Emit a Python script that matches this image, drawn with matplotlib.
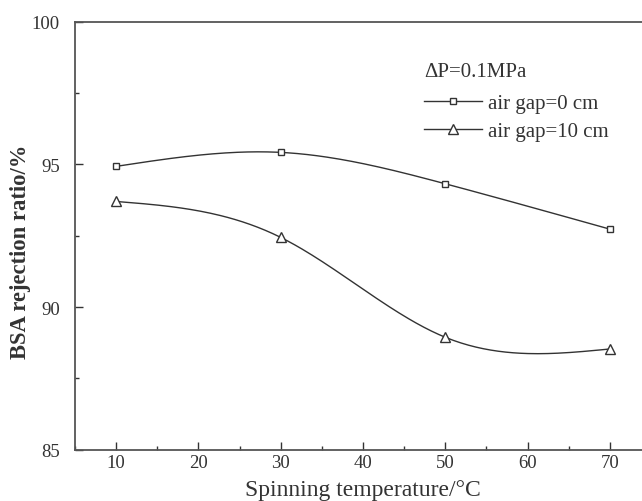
import numpy as np
import matplotlib
matplotlib.use('Agg')
import matplotlib.pyplot as plt
from matplotlib.ticker import MultipleLocator

# data
temperature = [10, 30, 50, 70]
rejection_gap0 = [94.93, 95.42, 94.32, 92.73]
rejection_gap10 = [93.70, 92.44, 88.94, 88.53]


def natural_spline(x, y, n=200):
    # smooth curve through the points, like the Origin spline connector
    x = np.asarray(x, float)
    y = np.asarray(y, float)
    k = len(x)
    h = np.diff(x)
    A = np.zeros((k, k))
    b = np.zeros(k)
    A[0, 0] = A[-1, -1] = 1
    for i in range(1, k - 1):
        A[i, i - 1] = h[i - 1]
        A[i, i] = 2 * (h[i - 1] + h[i])
        A[i, i + 1] = h[i]
        b[i] = 6 * ((y[i + 1] - y[i]) / h[i] - (y[i] - y[i - 1]) / h[i - 1])
    M = np.linalg.solve(A, b)
    xs = np.linspace(x[0], x[-1], n)
    idx = np.clip(np.searchsorted(x, xs) - 1, 0, k - 2)
    x0, x1 = x[idx], x[idx + 1]
    hh = x1 - x0
    ys = (M[idx] * (x1 - xs) ** 3 / (6 * hh) + M[idx + 1] * (xs - x0) ** 3 / (6 * hh)
          + (y[idx] / hh - M[idx] * hh / 6) * (x1 - xs)
          + (y[idx + 1] / hh - M[idx + 1] * hh / 6) * (xs - x0))
    return xs, ys


plt.rcParams['font.family'] = ['Liberation Serif', 'DejaVu Serif']
ink = '#333333'

fig = plt.figure(figsize=(6.42, 5.02), dpi=100)
ax = fig.add_axes([75 / 642, 1 - 450.7 / 502, (651 - 75) / 642, (450.7 - 22.7) / 502])

for ys, marker, msize, label in [(rejection_gap0, 's', 5, 'air gap=0 cm'),
                                 (rejection_gap10, '^', 7.5, 'air gap=10 cm')]:
    sx, sy = natural_spline(temperature, ys)
    ax.plot(sx, sy, color=ink, lw=1.0)
    ax.plot(temperature, ys, linestyle='none', marker=marker, ms=msize,
            mfc='white', mec=ink, mew=1.0)
    ax.plot([], [], color=ink, lw=1.0, marker=marker, ms=msize,
            mfc='white', mec=ink, mew=1.0, label=label)

ax.set_xlim(5, 75)
ax.set_ylim(85, 100)
ax.xaxis.set_major_locator(MultipleLocator(10))
ax.xaxis.set_minor_locator(MultipleLocator(5))
ax.yaxis.set_major_locator(MultipleLocator(5))
ax.yaxis.set_minor_locator(MultipleLocator(2.5))
ax.tick_params(which='both', direction='in', colors=ink, labelsize=13.5,
               top=False, right=False)
ax.tick_params(which='major', length=6, width=1)
ax.tick_params(which='minor', length=3, width=1)
ax.tick_params(axis='x', pad=3)
ax.tick_params(axis='y', pad=11)
for s in ax.spines.values():
    s.set_color('#555555')
    s.set_linewidth(1.3)

ax.set_xlabel('Spinning temperature/°C', fontsize=17, color=ink)
ax.xaxis.set_label_coords(0.5, -0.068)
ax.set_ylabel('BSA rejection ratio/%', fontsize=16.3, fontweight='bold', color=ink)
ax.yaxis.set_label_coords(-0.077, 0.464)

leg = ax.legend(loc='upper left', bbox_to_anchor=(0.573, 0.95), frameon=False,
                title='ΔP=0.1MPa', fontsize=15, title_fontsize=15,
                handlelength=2.8, handletextpad=0.3, labelspacing=0.4,
                alignment='left', labelcolor=ink)
leg.get_title().set_color(ink)
leg._legend_box.sep = 9

fig.savefig('out.png', dpi=100)
